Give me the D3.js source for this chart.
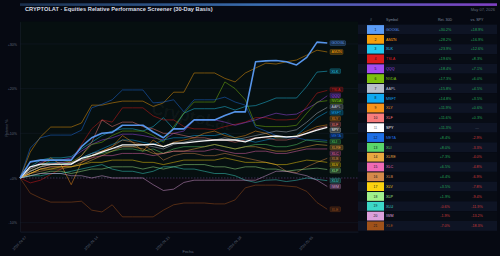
<!DOCTYPE html>
<html>
<head>
<meta charset="utf-8">
<script src="https://cdn.jsdelivr.net/npm/d3@7"></script>
<style>
html, body { margin: 0; padding: 0; background: #060912; }
svg { display: block; font-family: "Liberation Sans", Arial, sans-serif; }
</style>
</head>
<body>
<div id="chart"></div>
<script>
// 30-day relative performance (%), one value per calendar day from 2026-04-07
const GOOGL = [0, 3.6, 4.0, 4.0, 4.0, 4.0, 7.0, 9.0, 10.0, 10.2, 11.8, 11.8, 11.8, 10.3, 9.0, 11.0, 11.0, 13.0, 13.0, 13.0, 14.0, 14.8, 14.8, 26.0, 26.2, 26.3, 26.0, 25.3, 27.0, 30.4, 30.2];
const AMZN  = [0, 5.8, 9.2, 11.4, 11.4, 11.4, 12.3, 16.3, 16.3, 16.8, 17.2, 17.2, 17.2, 16.0, 16.8, 19.2, 19.2, 23.5, 23.5, 23.5, 22.3, 21.5, 23.5, 24.6, 25.7, 25.5, 26.0, 26.4, 27.5, 28.6, 28.2];
const XLK   = [0, 2.5, 4.0, 4.5, 4.5, 4.8, 6.5, 8.0, 9.5, 10.5, 11.0, 11.0, 10.5, 11.5, 13.5, 11.0, 14.5, 15.5, 15.5, 15.5, 16.0, 15.2, 16.0, 16.2, 17.0, 17.9, 17.9, 17.9, 20.5, 23.7, 23.9];
const TSLA  = [0, -1.1, -0.5, 0.8, 2.0, 4.0, 7.5, 11.0, 13.0, 12.5, 15.7, 15.7, 15.7, 13.9, 13.0, 13.0, 11.5, 11.0, 11.0, 10.8, 11.5, 12.0, 12.5, 13.5, 13.5, 13.0, 13.0, 13.2, 16.0, 19.0, 19.6];
const QQQ   = [0, 2.0, 3.5, 4.0, 4.0, 4.5, 6.0, 7.5, 8.5, 9.0, 9.8, 9.8, 9.5, 9.0, 8.5, 10.0, 10.5, 13.0, 13.0, 13.0, 12.5, 11.8, 12.4, 13.0, 13.8, 14.5, 14.1, 14.3, 15.5, 16.8, 18.4];
const NVDA  = [0, 1.5, 2.5, 4.0, 4.0, 3.5, 5.0, 7.5, 8.0, 9.5, 10.5, 10.5, 10.5, 9.5, 8.0, 11.5, 14.5, 17.0, 17.0, 17.0, 21.5, 20.0, 17.5, 11.8, 11.5, 11.5, 11.5, 11.8, 14.5, 17.0, 17.3];
const AAPL  = [0, 1.5, 2.5, 3.0, 3.0, 3.2, 4.5, 5.5, 6.0, 6.5, 7.0, 7.0, 7.5, 7.0, 6.5, 7.5, 8.0, 8.5, 8.5, 8.5, 9.0, 8.5, 9.0, 9.5, 10.0, 10.5, 10.3, 10.8, 12.5, 14.5, 15.8];
const MSFT  = [0, 2.0, 3.0, 3.5, 3.5, 3.0, 4.5, 5.5, 6.5, 7.5, 8.5, 8.5, 8.0, 7.5, 8.5, 9.0, 9.0, 9.5, 9.5, 9.5, 10.0, 9.0, 8.5, 8.0, 8.5, 9.0, 9.0, 9.5, 11.5, 13.5, 14.8];
const XLY   = [0, 2.0, 3.0, 4.5, 3.0, -1.5, 3.5, 5.0, 6.0, 7.0, 9.5, 8.0, 6.0, 8.5, 7.0, 8.0, 8.5, 9.0, 10.0, 10.5, 9.5, 9.0, 9.5, 10.5, 10.0, 9.0, 9.0, 9.5, 10.5, 11.5, 11.9];
const XLF   = [0, 1.0, 2.0, 2.5, 2.5, 3.0, 5.0, 8.0, 13.0, 11.5, 12.5, 12.5, 11.5, 11.0, 10.0, 10.0, 9.5, 9.0, 9.0, 8.5, 8.5, 8.0, 8.5, 9.0, 9.0, 8.5, 8.5, 9.0, 10.0, 11.0, 11.6];
const SPY   = [0, 2.5, 3.1, 3.1, 3.1, 3.1, 4.4, 5.0, 5.8, 6.6, 7.4, 7.4, 7.4, 7.6, 7.0, 7.8, 7.8, 8.1, 8.3, 8.5, 8.5, 8.5, 8.1, 8.9, 9.2, 9.4, 9.2, 9.3, 10.0, 10.7, 11.3];
const META  = [0, 6.7, 9.0, 9.6, 9.6, 9.6, 10.7, 15.7, 16.5, 17.5, 19.7, 19.7, 19.7, 16.8, 17.0, 17.5, 14.8, 17.5, 17.5, 17.5, 18.1, 17.0, 16.3, 11.4, 10.5, 9.5, 9.0, 9.0, 8.5, 8.6, 8.4];
const XLI   = [0, 1.5, 2.5, 3.0, 3.0, 3.5, 4.0, 5.0, 5.5, 6.0, 6.5, 6.5, 6.0, 6.5, 5.5, 6.5, 7.0, 7.0, 7.0, 7.5, 7.0, 6.5, 7.0, 7.5, 7.5, 7.0, 7.0, 7.5, 8.5, 8.2, 8.0];
const XLRE  = [0, 1.0, 2.0, 2.5, 2.5, 2.5, 3.0, 4.0, 5.0, 6.0, 7.0, 7.0, 6.5, 5.5, 5.5, 6.0, 6.0, 6.5, 7.0, 7.5, 7.0, 6.5, 7.0, 7.0, 6.5, 6.0, 6.0, 6.5, 7.0, 7.5, 7.3];
const XLC   = [0, 1.5, 2.5, 3.0, 3.5, 3.5, 4.0, 4.5, 5.0, 5.0, 5.5, 5.5, 5.5, 5.0, 5.5, 6.0, 6.0, 6.0, 6.0, 6.5, 6.0, 5.5, 5.5, 6.0, 6.0, 5.5, 5.5, 6.0, 6.5, 6.5, 6.5];
const XLB   = [0, 1.0, 1.5, 2.0, 2.0, 2.5, 3.5, 4.5, 6.0, 7.0, 8.5, 8.0, 7.5, 6.0, 4.0, 5.0, 5.5, 5.5, 5.0, 5.0, 5.5, 5.0, 4.5, 4.0, 3.5, 3.0, 1.5, 1.2, 2.5, 3.5, 4.4];
const XLV   = [0, 1.0, 2.0, 2.0, 2.5, 2.5, 3.0, 3.5, 3.5, 4.0, 4.0, 4.0, 3.5, 3.5, 3.0, 3.5, 4.0, 4.0, 4.0, 4.0, 4.5, 4.0, 3.5, 3.5, 3.5, 3.0, 3.0, 3.5, 4.0, 3.8, 3.5];
const XLP   = [0, 0.5, 1.0, 1.5, 1.5, 1.0, 1.5, 2.0, 2.0, 2.5, 2.5, 2.5, 2.0, 2.5, 2.0, 2.5, 3.0, 3.0, 3.0, 2.5, 2.5, 2.0, 2.5, 2.5, 2.0, 2.0, 1.5, 1.8, 2.0, 2.2, 1.9];
const XLU   = [0, 0.5, 0.5, 1.0, 1.0, 1.5, 2.0, 2.5, 3.0, 2.0, 1.5, 1.5, 1.0, 1.5, 2.5, 2.5, 2.0, 2.0, 1.5, 1.0, 1.0, 0.5, -0.5, -1.0, -0.5, -0.4, -0.8, -0.5, 0.0, -0.3, -0.6];
const IWM   = [0, 0.5, 1.0, 1.0, 1.0, 0.5, 0.5, 0.0, 0.5, 0.0, 0.0, 0.0, 0.0, -1.5, -2.8, -2.5, -1.0, -0.5, -0.5, -0.5, -0.5, -0.5, -0.5, -0.5, 0.5, 1.5, 1.5, 1.0, 0.5, -0.5, -1.9];
const XLE   = [0, -3.4, -4.5, -5.4, -5.4, -5.4, -5.2, -7.2, -7.6, -6.0, -8.7, -8.7, -8.7, -8.7, -7.2, -6.0, -5.6, -5.6, -5.6, -5.8, -5.8, -4.9, -2.2, -1.6, -1.6, -1.6, -1.8, -2.0, -3.0, -5.5, -7.0];

const symbols = ["GOOGL", "AMZN", "XLK", "TSLA", "QQQ", "NVDA", "AAPL", "MSFT", "XLY", "XLF", "SPY",
                 "META", "XLI", "XLRE", "XLC", "XLB", "XLV", "XLP", "XLU", "IWM", "XLE"];
const seriesValues = [GOOGL, AMZN, XLK, TSLA, QQQ, NVDA, AAPL, MSFT, XLY, XLF, SPY,
                      META, XLI, XLRE, XLC, XLB, XLV, XLP, XLU, IWM, XLE];
const colors = ["#5b9cf6", "#f59e0b", "#22c8ee", "#dc1c1c", "#a44cf0", "#7cc00e", "#b8bfcc", "#10a8f0",
                "#f7931a", "#f87c7c", "#ffffff", "#1e6fe6", "#5ad66a", "#e8a840", "#f06ab4", "#d58a4a",
                "#fcd30f", "#a0f08c", "#3cd8c8", "#dca0dc", "#a0521a"];
const dates = d3.timeDay.range(new Date(2026, 3, 7), new Date(2026, 4, 8));
const tickDates = ["2026-04-07", "2026-04-14", "2026-04-21", "2026-04-28", "2026-05-05"];
const yTicks = [-10, 0, 10, 20, 30];
const tableHeaders = ["#", "Symbol", "Ret. 30D", "vs. SPY"];

const W = 500, H = 256;
const parse = d3.timeParse("%Y-%m-%d");

const svg = d3.select("#chart").append("svg")
    .attr("width", W)
    .attr("height", H);

svg.append("rect").attr("width", W).attr("height", H).attr("fill", "#060912");

const defs = svg.append("defs");
const grad = defs.append("linearGradient").attr("id", "topbar");
grad.append("stop").attr("offset", "0%").attr("stop-color", "#1a2f4d");
grad.append("stop").attr("offset", "50%").attr("stop-color", "#3a6db0");
grad.append("stop").attr("offset", "100%").attr("stop-color", "#8040c4");
svg.append("rect").attr("x", 20).attr("y", 3.3).attr("width", 477).attr("height", 2.6).attr("fill", "url(#topbar)");

svg.append("text")
    .attr("x", 25).attr("y", 11)
    .attr("font-size", 5.7).attr("font-weight", "bold")
    .attr("fill", "#d8dde6")
    .text("CRYPTOLAT  ·  Equities Relative Performance Screener  (30-Day Basis)");

svg.append("text")
    .attr("x", 495).attr("y", 11)
    .attr("text-anchor", "end")
    .attr("font-size", 4).attr("fill", "#5f6878")
    .text("May 07, 2026");

// scales
const x = d3.scaleTime()
    .domain([new Date(2026, 3, 7), new Date(2026, 4, 10)])
    .range([20, 358]);
const y = d3.scaleLinear()
    .domain([-12, 35])
    .range([231.6, 21.6]);

// plot background, split at zero
svg.append("rect")
    .attr("x", x.range()[0]).attr("y", y(35))
    .attr("width", x.range()[1] - x.range()[0]).attr("height", y(0) - y(35))
    .attr("fill", "#060f10");
svg.append("rect")
    .attr("x", x.range()[0]).attr("y", y(0))
    .attr("width", x.range()[1] - x.range()[0]).attr("height", y(-12) - y(0))
    .attr("fill", "#0d0910");

svg.append("g")
    .selectAll("line")
    .data(yTicks.filter(d => d !== 0))
    .enter().append("line")
    .attr("x1", 20).attr("x2", 358)
    .attr("y1", d => y(d)).attr("y2", d => y(d))
    .attr("stroke", "#151d2a").attr("stroke-width", 0.5);

// watermark
svg.append("text")
    .attr("transform", "translate(190,122) rotate(12)")
    .attr("text-anchor", "middle")
    .attr("font-size", 17).attr("font-weight", "bold")
    .attr("fill", "#ffffff").attr("fill-opacity", 0.045)
    .text("CryptoLat");

// axes
const yAxis = svg.append("g")
    .attr("transform", "translate(20,0)")
    .call(d3.axisLeft(y).tickValues(yTicks).tickSize(0).tickPadding(3)
        .tickFormat(d => (d >= 0 ? "+" : "") + d + "%"));
yAxis.select(".domain").attr("stroke", "#1a2230").attr("stroke-width", 0.5);
yAxis.selectAll("text").attr("font-size", 3.6).attr("fill", "#5d6677");

const xAxis = svg.append("g")
    .attr("transform", "translate(0," + y(-12) + ")")
    .call(d3.axisBottom(x).tickValues(tickDates.map(parse)).tickSize(0).tickFormat(d3.timeFormat("%Y-%m-%d")));
xAxis.select(".domain").attr("stroke", "#1f2735").attr("stroke-width", 0.6);
xAxis.selectAll("text")
    .attr("font-size", 3.5).attr("fill", "#5d6677")
    .attr("text-anchor", "end")
    .attr("dy", 0)
    .attr("transform", "translate(4,4) rotate(-45)");

svg.append("text")
    .attr("x", 188).attr("y", 253)
    .attr("text-anchor", "middle")
    .attr("font-size", 4).attr("fill", "#5d6677")
    .text("Fecha");
svg.append("text")
    .attr("transform", "translate(8,128) rotate(-90)")
    .attr("text-anchor", "middle")
    .attr("font-size", 3.6).attr("fill", "#5d6677")
    .text("Retorno %");

// zero line
svg.append("line")
    .attr("x1", 20).attr("x2", 358)
    .attr("y1", y(0)).attr("y2", y(0))
    .attr("stroke", "#5b4a80").attr("stroke-width", 0.6)
    .attr("stroke-dasharray", "1.5,1.5");

// lines
const line = d3.line()
    .x((d, i) => x(dates[i]))
    .y(d => y(d));

const series = symbols.map((s, i) => ({ symbol: s, color: colors[i], values: seriesValues[i], rank: i + 1 }));
const drawOrder = series.filter(d => d.rank !== 1 && d.symbol !== "SPY")
    .concat(series.filter(d => d.symbol === "SPY"), series.filter(d => d.rank === 1));

svg.append("g")
    .selectAll("path")
    .data(drawOrder)
    .enter().append("path")
    .attr("d", d => line(d.values))
    .attr("fill", "none")
    .attr("stroke", d => d.color)
    .attr("stroke-linejoin", "round")
    .attr("stroke-width", d => d.rank === 1 ? 1.6 : (d.symbol === "SPY" ? 1.3 : 0.8))
    .attr("stroke-opacity", d => d.rank === 1 || d.symbol === "SPY" ? 0.95 : 0.6);

// end labels, relaxed both ways so clusters stay centred on their lines
const gap = 5.8;
const labelPos = series.map(d => y(d.values[d.values.length - 1]));
for (let k = 0; k < 300; k++) {
    for (let i = 1; i < labelPos.length; i++) {
        const d = labelPos[i] - labelPos[i - 1];
        if (d < gap) {
            const s = (gap - d) / 2;
            labelPos[i - 1] -= s;
            labelPos[i] += s;
        }
    }
}

const labels = svg.append("g")
    .selectAll("g")
    .data(series)
    .enter().append("g")
    .attr("transform", (d, i) => "translate(330," + labelPos[i] + ")");

labels.append("rect")
    .attr("x", 0).attr("y", -2.4)
    .attr("width", d => d.symbol.length * 2.5 + 3)
    .attr("height", 4.8).attr("rx", 0.8)
    .attr("fill", d => d.color).attr("fill-opacity", 0.22)
    .attr("stroke", d => d.color).attr("stroke-opacity", 0.6).attr("stroke-width", 0.4);
labels.append("text")
    .attr("x", 1.5).attr("y", 1.3)
    .attr("font-size", 3.6)
    .attr("fill", d => d.color)
    .text(d => d.symbol);

// ranking table
const spyRet = SPY[SPY.length - 1];
const fmt = v => (v >= 0 ? "+" : "") + v.toFixed(1) + "%";
const rowTop = 24.6, rowH = 9.82;

const header = svg.append("g").attr("font-size", 3.6).attr("fill", "#7f899b");
header.append("text").attr("x", 371).attr("y", 20.5).attr("text-anchor", "middle").text(tableHeaders[0]);
header.append("text").attr("x", 386).attr("y", 20.5).text(tableHeaders[1]);
header.append("text").attr("x", 445).attr("y", 20.5).attr("text-anchor", "middle").text(tableHeaders[2]);
header.append("text").attr("x", 477).attr("y", 20.5).attr("text-anchor", "middle").text(tableHeaders[3]);

const rows = svg.append("g")
    .selectAll("g")
    .data(series)
    .enter().append("g")
    .attr("transform", (d, i) => "translate(0," + (rowTop + i * rowH) + ")");

rows.append("rect")
    .attr("x", 358).attr("width", 139).attr("height", rowH)
    .attr("fill", (d, i) => i % 2 === 0 ? "#0e1424" : "#080c15");
rows.append("rect")
    .attr("x", 367).attr("y", 0.5).attr("width", 17).attr("height", rowH - 1)
    .attr("fill", d => d.color);
rows.append("text")
    .attr("x", 375.5).attr("y", rowH / 2 + 1.2)
    .attr("text-anchor", "middle")
    .attr("font-size", 3.4)
    .attr("fill", d => d.symbol === "SPY" ? "#6b7280" : "#0b1020")
    .text(d => d.rank);
rows.append("text")
    .attr("x", 386).attr("y", rowH / 2 + 1.3)
    .attr("font-size", 3.7)
    .attr("fill", d => d.color)
    .text(d => d.symbol);
rows.append("text")
    .attr("x", 445).attr("y", rowH / 2 + 1.3)
    .attr("text-anchor", "middle")
    .attr("font-size", 3.7)
    .attr("fill", d => d.values[d.values.length - 1] >= 0 ? "#22a95a" : "#cf3b3b")
    .text(d => fmt(d.values[d.values.length - 1]));
rows.append("text")
    .attr("x", 477).attr("y", rowH / 2 + 1.3)
    .attr("text-anchor", "middle")
    .attr("font-size", 3.7)
    .attr("fill", d => {
        if (d.symbol === "SPY") return "#5d6677";
        return d.values[d.values.length - 1] - spyRet >= 0 ? "#22a95a" : "#cf3b3b";
    })
    .text(d => d.symbol === "SPY" ? "—" : fmt(d.values[d.values.length - 1] - spyRet));
</script>
</body>
</html>
